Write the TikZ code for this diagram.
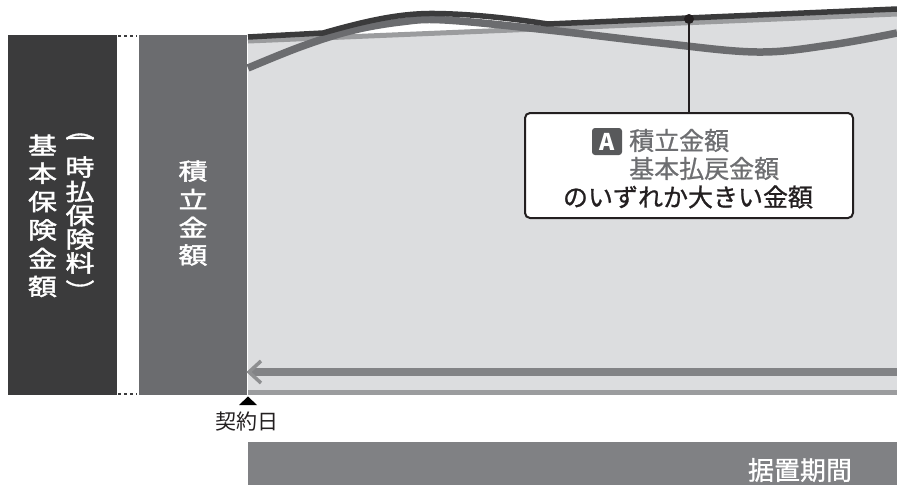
\documentclass[tikz,border=0pt]{standalone}
\usepackage{fontspec}
\usepackage{graphicx}
\setmainfont{Noto Sans CJK JP}
\newfontfamily\heavy[FakeBold=1.6]{Noto Sans CJK JP}
\newfontfamily\semi[FakeBold=0.9]{Noto Sans CJK JP}
\usetikzlibrary{calc}
\definecolor{cdark}{HTML}{3B3B3C}
\definecolor{cmed}{HTML}{6B6C6F}
\definecolor{cfill}{HTML}{DCDDDF}
\definecolor{clight}{HTML}{9B9C9E}
\definecolor{carrow}{HTML}{828386}
\definecolor{cchev}{HTML}{8E8F91}
\definecolor{cbar}{HTML}{808184}
\definecolor{cink}{HTML}{231F20}
\definecolor{cgraytext}{HTML}{6D6E71}
\definecolor{cbadge}{HTML}{58595B}
\begin{document}
\begin{tikzpicture}[x=1pt,y=-1pt,
  vchar/.style={white,font=\heavy\fontsize{29}{29}\selectfont,inner sep=0pt},
  barbox/.style={draw=none,inner sep=0pt,anchor=north west},
  curve/.style={line cap=butt,line join=round},
  boxtext/.style={inner sep=0pt,font=\semi\fontsize{25}{25}\selectfont},
]
\useasboundingbox (0,0) rectangle (897,485);

% left bars
\node[barbox,fill=cdark,minimum width=109pt,minimum height=360pt] (bdark) at (8,35) {};
\node[barbox,fill=cmed,minimum width=108pt,minimum height=360pt] (bmed) at (139,35) {};
\draw[cdark,line width=2pt,dash pattern=on 3pt off 3pt] ($(bdark.north east)+(1,1)$) -- ($(bmed.north west)+(-2,1)$);
\draw[cdark,line width=2pt,dash pattern=on 3pt off 3pt] ($(bdark.south east)+(1,-1)$) -- ($(bmed.south west)+(-2,-1)$);

% vertical texts
\foreach \c [count=\i] in {基,本,保,険,金,額}
  \node[vchar] (ka\i) at (42.5,{145+28.3*(\i-1)}) {\scalebox{1}[0.8]{\c}};
\node[vchar] (kb0) at (80,129) {\rotatebox{-90}{\scalebox{0.8}[1]{（}}};
\node[vchar] (kb1) at (80,142) {\scalebox{1}[0.8]{一}};
\foreach \c/\y [count=\i] in {時/167,払/191.5,保/215.5,険/239,料/263}
  \node[vchar] (kc\i) at (80,\y) {\scalebox{1}[0.8]{\c}};
\node[vchar] (kb9) at (80,291) {\rotatebox{-90}{\scalebox{0.8}[1]{）}}};
\foreach \c [count=\i] in {積,立,金,額}
  \node[vchar] (km\i) at (193,{171+28*(\i-1)}) {\scalebox{1}[0.8]{\c}};

% light grey area
\coordinate (lA) at (248,41);
\coordinate (lB) at (897,14);
\fill[cfill] (lA) -- (lB) -- (897,390) -- (248,390) -- cycle;

% lines
\draw[clight,line width=5pt] (lA) -- (lB);
\draw[cmed,line width=7.5pt,curve] plot[smooth,tension=0.6] coordinates {(248,68) (300,47) (350,31) (400,22) (445,20) (548,30) (660,43) (757,52) (830,45) (897,33)};
\draw[cdark,line width=5.5pt,curve] (248,37) -- (323,33) .. controls (365,21) and (400,13) .. (435,13.5) .. controls (475,14) and (515,19) .. (548,24) -- (897,9);

% arrow
\coordinate (arR) at (897,372);
\coordinate (arL) at (249,372);
\draw[carrow,line width=8pt] (arR) -- ($(arL)+(2,0)$);
\draw[cchev,line width=3.5pt,line join=miter] ($(arL)+(12,-11)$) -- (arL) -- ($(arL)+(12,11)$);
\draw[clight,line width=5pt] (248,392.5) -- (897,392.5);

% contract date
\fill[black] (239,405) -- (257,405) -- (248,396.5) -- cycle;
\node[inner sep=0pt,cink,font=\fontsize{21}{21}\selectfont] (keiyaku) at (246.5,422) {契約日};

% bottom bar
\node[barbox,fill=cbar,minimum width=649pt,minimum height=43pt] (period) at (248,442) {};
\node[inner sep=0pt,white,font=\semi\fontsize{26}{26}\selectfont] (periodt) at (800,470) {据置期間};

% callout
\node[circle,fill=cink,inner sep=0pt,minimum size=10pt] (dot) at (689,19) {};
\node[draw=cink,line width=2pt,rounded corners=5pt,fill=white,minimum width=328pt,minimum height=105pt] (box) at (689,165.5) {};
\draw[cink,line width=2pt] (dot.center) -- (box.north);
\node[fill=cbadge,rounded corners=3pt,minimum width=30pt,minimum height=27pt,inner sep=0pt,text=white,font=\fontsize{23}{23}\selectfont\bfseries] (badge) at (607,141.5) {A};
\node[boxtext,cgraytext,anchor=west] (t1) at (629,140.5) {積立金額};
\node[boxtext,cgraytext,anchor=west] (t2) at (629,168.5) {基本払戻金額};
\node[boxtext,cink] (t3) at (688,197) {のいずれか大きい金額};
\end{tikzpicture}
\end{document}
